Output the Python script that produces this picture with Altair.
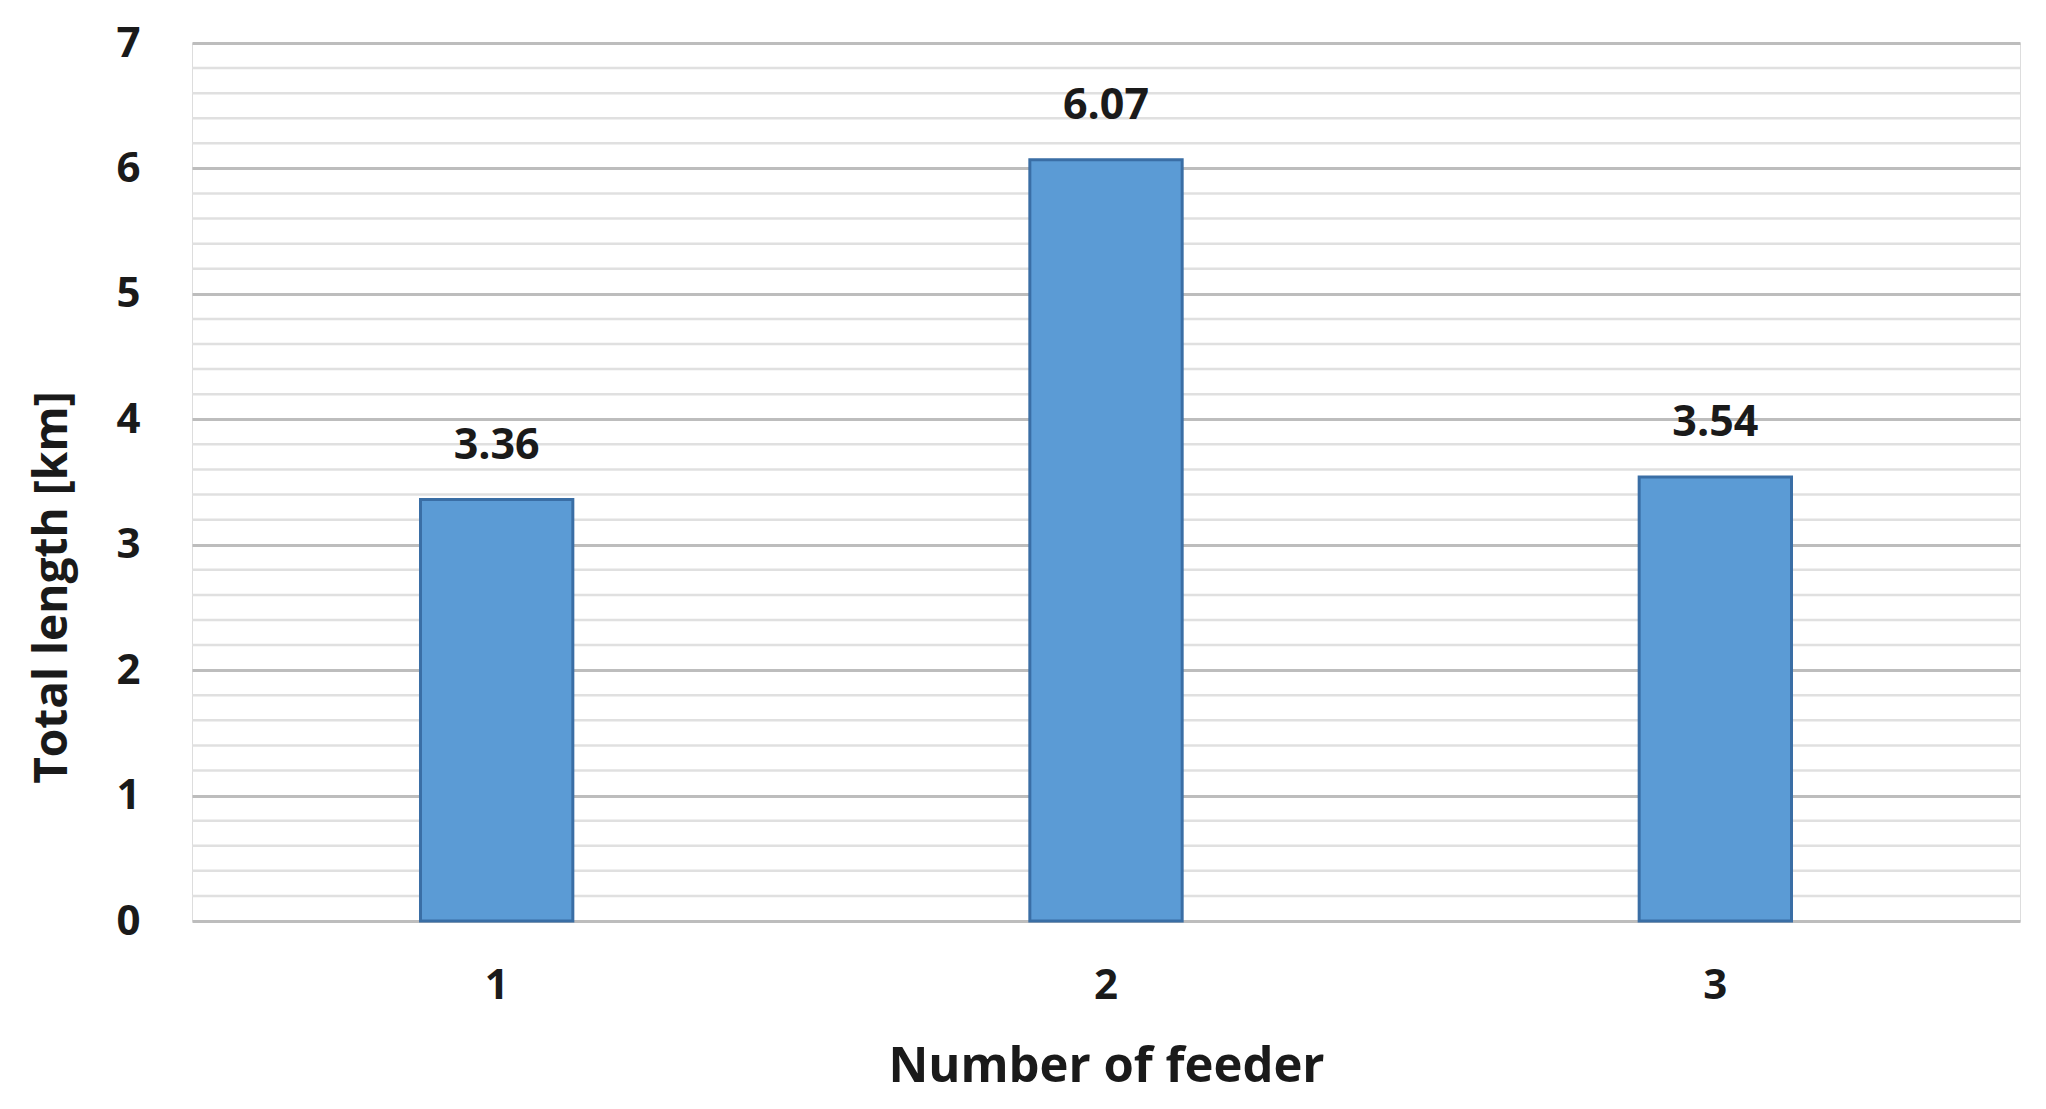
import altair as alt
import pandas as pd

feeders = ["1", "2", "3"]
lengths = [3.36, 6.07, 3.54]
labels = ["3.36", "6.07", "3.54"]
minor_ticks = [0.2, 0.4, 0.6, 0.8, 1.2, 1.4, 1.6, 1.8, 2.2, 2.4, 2.6, 2.8,
               3.2, 3.4, 3.6, 3.8, 4.2, 4.4, 4.6, 4.8, 5.2, 5.4, 5.6, 5.8,
               6.2, 6.4, 6.6, 6.8]
major_ticks = [0, 1, 2, 3, 4, 5, 6, 7]

df = pd.DataFrame({"feeder": feeders, "length": lengths, "label": labels})
minor_df = pd.DataFrame({"length": minor_ticks})

FONT = "Open Sans"
TXT = "#1a1a1a"

x_scale = alt.Scale(domain=feeders, paddingInner=0.75, paddingOuter=0.375)
x_axis = alt.Axis(title="Number of feeder", labelAngle=0, tickSize=0,
                  domain=False, labelPadding=64, labelBaseline="middle",
                  labelFont=FONT, labelFontSize=42, labelFontWeight="bold",
                  labelColor=TXT, titleFont=FONT, titleFontSize=49,
                  titleFontWeight="bold", titleColor=TXT,
                  titleBaseline="middle", titleY=145)

y_scale = alt.Scale(domain=[0, 7], nice=False)
y_axis = alt.Axis(title="Total length [km]", values=major_ticks, format="d",
                  tickSize=0, domain=False, labelPadding=52,
                  grid=True, gridColor="#bdbdbd", gridWidth=3,
                  labelFont=FONT, labelFontSize=42, labelFontWeight="bold",
                  labelColor=TXT, titleFont=FONT, titleFontSize=46,
                  titleFontWeight="bold", titleColor=TXT,
                  titleX=-140, titleY=544, titleBaseline="middle")

minor = alt.Chart(minor_df).mark_rule(color="#e0e0e0", strokeWidth=2.5).encode(
    y=alt.Y("length:Q", scale=y_scale, axis=y_axis),
)

bars = alt.Chart(df).mark_bar(color="#5B9BD5", stroke="#3A6EA5", strokeWidth=3).encode(
    x=alt.X("feeder:N", scale=x_scale, axis=x_axis),
    y=alt.Y("length:Q", scale=y_scale, axis=y_axis),
)

text = alt.Chart(df).mark_text(font=FONT, fontSize=43, fontWeight="bold", color=TXT,
                               baseline="middle", dy=-54).encode(
    x=alt.X("feeder:N", scale=x_scale, axis=x_axis),
    y=alt.Y("length:Q", scale=y_scale, axis=y_axis),
    text="label:N",
)

chart = alt.layer(minor, bars, text).properties(
    width=1828, height=878,
    autosize=alt.AutoSizeParams(type="none"),
    padding={"left": 184, "top": 35, "right": 18, "bottom": 180},
).configure_view(stroke=None).configure(background="white")

chart.save("out.html", embed_options={"renderer": "svg", "actions": False})
